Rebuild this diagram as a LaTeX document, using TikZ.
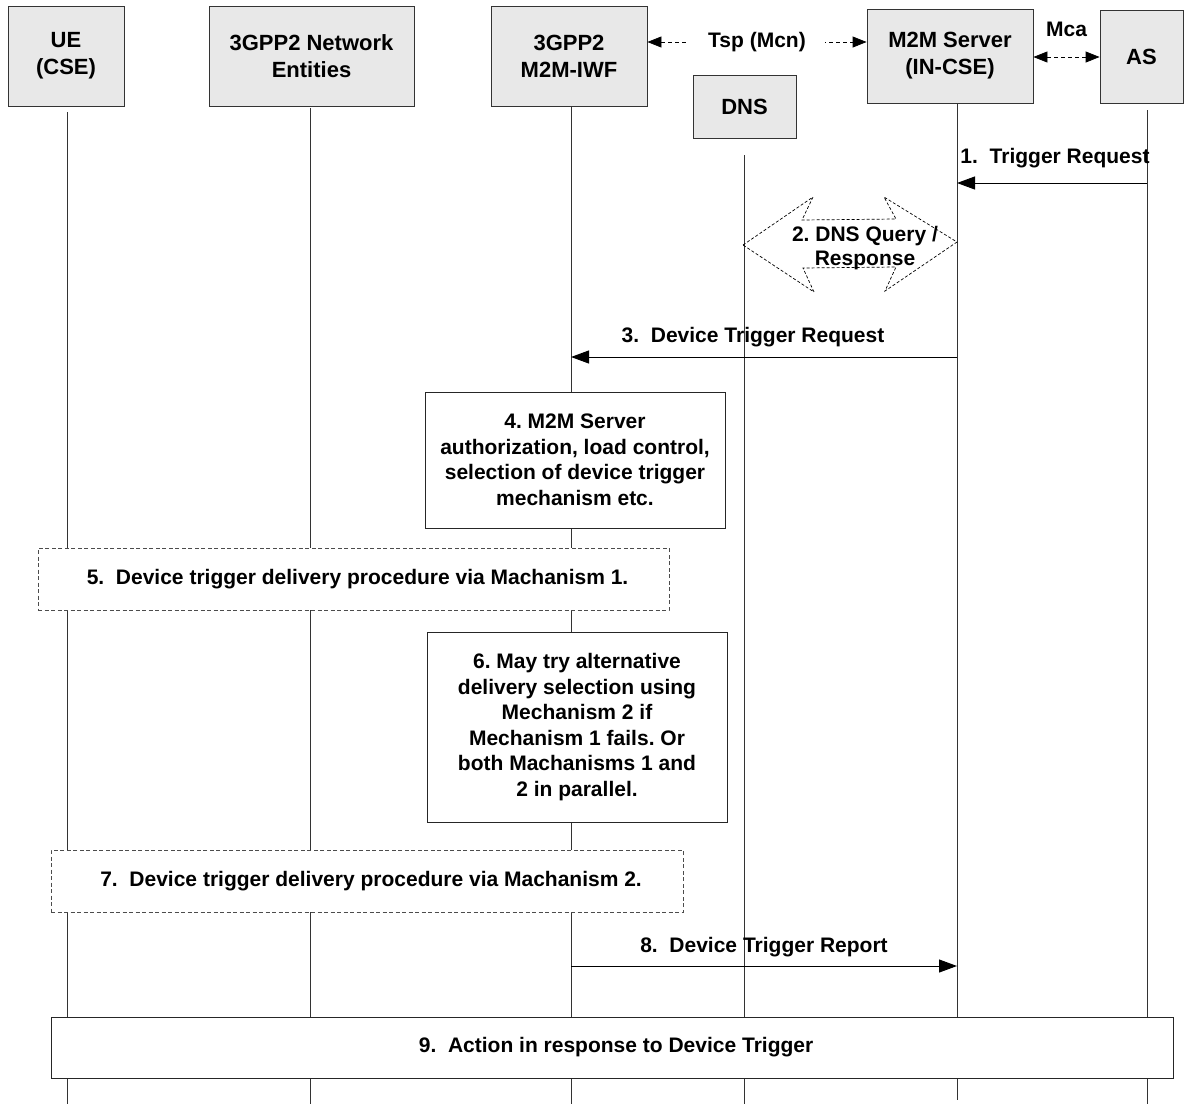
\documentclass[tikz,border=0pt]{standalone}
\usepackage{fontspec}
\setmainfont{Liberation Sans}
\usetikzlibrary{arrows.meta, positioning, calc}
\frenchspacing

\begin{document}
\begin{tikzpicture}[
    x=1pt, y=-1pt,
    entity/.style = {
        rectangle,
        draw=black!80,
        fill=black!9,
        line width=0.8pt,
        inner sep=0pt,
        align=center,
        font=\fontsize{22}{27}\selectfont\bfseries
    },
    lifeline/.style = {draw=black!80, line width=0.9pt},
    action/.style = {
        rectangle,
        draw=black!85,
        fill=white,
        line width=0.8pt,
        inner sep=0pt,
        align=center,
        font=\fontsize{21}{25.5}\selectfont\bfseries
    },
    proc/.style = {action, draw=black!70, dash pattern=on 4pt off 2.5pt},
    msg/.style = {line width=1pt, -{Triangle[length=18pt, width=13pt]}},
    iface/.style = {line width=0.8pt, dash pattern=on 4pt off 3pt,
        {Triangle[length=14pt, width=11pt]}-{Triangle[length=14pt, width=11pt]}},
    dnsarrow/.style = {line width=0.7pt, dash pattern=on 3pt off 2pt},
    lbl/.style = {font=\fontsize{21}{24}\selectfont\bfseries, inner sep=0pt}
]
    \useasboundingbox (0,0) rectangle (1184,1104);

    % === LIFELINES ===
    \foreach \name/\x/\top/\bot in {ue/67/112/1104, net/310/108/1104, iwf/571/106/1104,
                                    dns/744/155/1104, m2m/957/103/1100, as/1147/110/1104} {
        \coordinate (\name Top) at (\x,\top);
        \coordinate (\name Bot) at (\x,\bot);
        \draw[lifeline] (\name Top) -- (\name Bot);
    }

    % === ENTITIES ===
    \node[entity, minimum width=116pt, minimum height=100pt] (ue) at (66,56) {UE\\(CSE)};
    \node[entity, minimum width=205pt, minimum height=100pt] (net) at (311.5,56) {3GPP2 Network\\Entities};
    \node[entity, minimum width=156pt, minimum height=100pt] (iwf) at (569,56) {3GPP2\\M2M-IWF};
    \node[entity, minimum width=103pt, minimum height=63pt] (dns) at (744.5,106.5) {DNS};
    \node[entity, minimum width=166pt, minimum height=94pt] (m2m) at (950,56) {M2M Server\\(IN-CSE)};
    \node[entity, minimum width=83pt, minimum height=93pt] (as) at (1141.5,56.5) {AS};

    % reference points
    \coordinate (tsp) at (0,42);
    \coordinate (mca) at (0,57);
    \coordinate (y1) at (0,183);
    \coordinate (y3) at (0,357);
    \coordinate (y8) at (0,966);

    % === INTERFACES (dashed) ===
    \draw[iface] (iwf.east |- tsp) -- node[lbl, fill=white, inner xsep=19pt, inner ysep=3pt] {Tsp (Mcn)} (m2m.west |- tsp);
    \draw[iface] (m2m.east |- mca) -- node[lbl, anchor=base, yshift=21pt] {Mca} (as.west |- mca);

    % === 1. TRIGGER REQUEST ===
    \draw[msg] (asTop |- y1) -- node[lbl, anchor=base, yshift=20pt, xshift=3pt] {1.~~Trigger Request} (m2mTop |- y1);

    % === 2. DNS QUERY ===
    \draw[dnsarrow] (743,245) -- (813,197) -- (802,220) -- (896,219) -- (884,197) -- (957,242)
        -- (885,291) -- (896,267) -- (803,268) -- (814,292) -- cycle;
    \node[lbl, align=center] (dnsq) at (865,248) {2. DNS Query /\\Response};

    % === 3. DEVICE TRIGGER REQUEST ===
    \draw[msg] (m2mTop |- y3) -- node[lbl, anchor=base, yshift=15pt, xshift=-11pt] {3.~~Device Trigger Request} (iwfTop |- y3);

    % === 4. AUTHORIZATION ===
    \node[action, minimum width=300pt, minimum height=136pt] (auth) at (575,460) {
        4. M2M Server\\
        authorization, load control,\\
        selection of device trigger\\
        mechanism etc.
    };

    % === 5. DELIVERY VIA MECHANISM 1 ===
    \node[proc, minimum width=631pt, minimum height=62pt] (mech1) at (353.5,579) {
        \hspace*{14pt}5.~~Device trigger delivery procedure via Machanism 1.
    };

    % === 6. ALTERNATIVE SELECTION ===
    \node[action, minimum width=300pt, minimum height=190pt] (alt) at (577,727) {
        6. May try alternative\\
        delivery selection using\\
        Mechanism 2 if\\
        Mechanism 1 fails. Or\\
        both Machanisms 1 and\\
        2 in parallel.
    };

    % === 7. DELIVERY VIA MECHANISM 2 ===
    \node[proc, minimum width=632pt, minimum height=62pt] (mech2) at (367,881) {
        \hspace*{14pt}7.~~Device trigger delivery procedure via Machanism 2.
    };

    % === 8. DEVICE TRIGGER REPORT ===
    \draw[msg] (iwfTop |- y8) -- node[lbl, anchor=base, yshift=14pt] {8.~~Device Trigger Report} (m2mTop |- y8);

    % === 9. ACTION ===
    \node[action, minimum width=1122pt, minimum height=61pt] (act) at (612,1047.5) {
        \hspace*{14pt}9.~~Action in response to Device Trigger
    };

\end{tikzpicture}
\end{document}
